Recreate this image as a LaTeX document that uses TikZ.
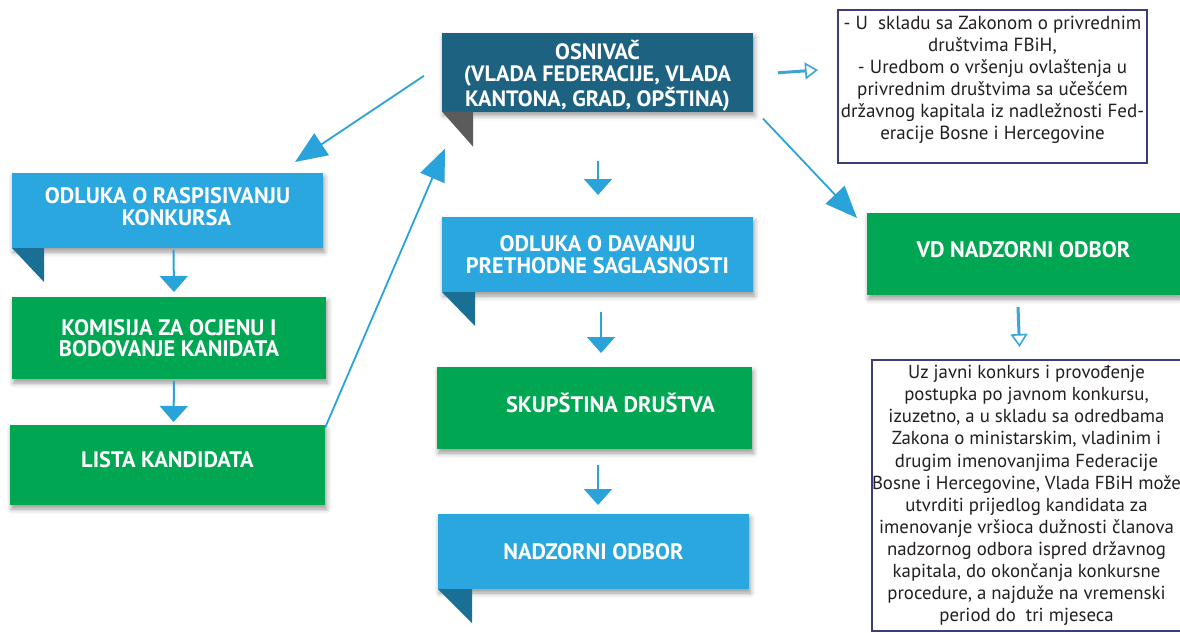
\documentclass[tikz,border=0pt]{standalone}
\usepackage{fontspec}
\setmainfont{PT Sans}
\usetikzlibrary{arrows.meta,calc,shadows.blur}

\definecolor{osnteal}{HTML}{1D6381}
\definecolor{panelblue}{HTML}{2AA7DF}
\definecolor{panelgreen}{HTML}{00A651}
\definecolor{foldblue}{HTML}{1A6F95}
\definecolor{foldgrey}{HTML}{5B5B5B}
\definecolor{arrowblue}{HTML}{2AA2DA}
\definecolor{hollowblue}{HTML}{3BA6D6}
\definecolor{frame}{HTML}{3C3C7C}
\definecolor{bodytext}{HTML}{231F20}

\begin{document}
\begin{tikzpicture}[x=1pt,y=-1pt,
  panel/.style={anchor=north west, inner sep=0pt, outer sep=0pt, text=white,
    align=center, font=\fontsize{22.4}{22.5}\selectfont\bfseries,
    blur shadow={shadow xshift=1.5pt, shadow yshift=-4pt,
      shadow blur radius=5pt, shadow opacity=40}},
  bluepanel/.style={panel, fill=panelblue},
  greenpanel/.style={panel, fill=panelgreen},
  note/.style={anchor=north west, draw=frame, line width=1.5pt, fill=white,
    inner sep=0pt, outer sep=0pt, align=center, text=bodytext},
  thinarrow/.style={draw=arrowblue, line width=1.8pt,
    -{Triangle[length=32pt, width=26pt]}},
  downarrow/.style={draw=arrowblue, line width=2pt,
    -{Triangle[length=16pt, width=28pt]}},
  hollowarrow/.style={draw=hollowblue, line width=3pt,
    -{Triangle[open, length=13pt, width=17pt, line width=1.6pt, fill=white]}},
]
\useasboundingbox (0,0) rectangle (1180,632);

% ---- ribbon panels ----
\node[panel, fill=osnteal, minimum width=311pt, minimum height=73pt,
  font=\fontsize{22.2}{22.5}\selectfont\bfseries] (osn) at (442,33)
  {\rule{0pt}{26pt}OSNIVAČ\\(VLADA FEDERACIJE, VLADA\\KANTONA, GRAD, OPŠTINA)};
\fill[foldgrey] (osn.south west) -- ++(31,0) -- ++(0,35) -- cycle;

\node[bluepanel, minimum width=311pt, minimum height=75pt] (odr) at (12,173)
  {ODLUKA O RASPISIVANJU\\\hspace*{18pt}KONKURSA\rule[-8pt]{0pt}{1pt}};
\fill[foldblue] (odr.south west) -- ++(32,0) -- ++(0,34) -- cycle;

\node[greenpanel, minimum width=314pt, minimum height=82pt,
  font=\fontsize{22.4}{21}\selectfont\bfseries] (kom) at (12,297)
  {KOMISIJA ZA OCJENU I\\BODOVANJE KANIDATA};

\node[greenpanel, minimum width=315pt, minimum height=80pt] (lis) at (10,425)
  {LISTA KANDIDATA\rule[-12pt]{0pt}{1pt}};

\node[bluepanel, minimum width=311pt, minimum height=75pt] (odd) at (442,217)
  {ODLUKA O DAVANJU\\PRETHODNE SAGLASNOSTI};
\fill[foldblue] (odd.south west) -- ++(33,0) -- ++(0,34) -- cycle;

\node[greenpanel, minimum width=315pt, minimum height=82pt] (sku) at (437,367)
  {\hspace*{32pt}SKUPŠTINA DRUŠTVA\rule[-10pt]{0pt}{1pt}};

\node[bluepanel, minimum width=311pt, minimum height=75pt] (nad) at (438,514)
  {NADZORNI ODBOR};
\fill[foldblue] (nad.south west) -- ++(34,0) -- ++(0,34) -- cycle;

\node[greenpanel, minimum width=313pt, minimum height=82pt] (vd) at (867,213)
  {VD NADZORNI ODBOR\rule[-10pt]{0pt}{1pt}};

% ---- framed notes ----
\node[note, minimum width=309pt, minimum height=153pt,
  font=\fontsize{19}{22}\selectfont] (law) at (838,10)
  {- U\ \ skladu sa Zakonom o privrednim\\
   društvima FBiH,\\
   - Uredbom o vršenju ovlaštenja u\\
   privrednim društvima sa učešćem\\
   državnog kapitala iz nadležnosti Fed-\\
   eracije Bosne i Hercegovine\rule[-18pt]{0pt}{1pt}};

\node[note, minimum width=306pt, minimum height=271pt,
  font=\fontsize{18.8}{22.1}\selectfont] (exc) at (872,360)
  {Uz javni konkurs i provođenje\\
   postupka po javnom konkursu,\\
   izuzetno, a u skladu sa odredbama\\
   Zakona o ministarskim, vladinim i\\
   drugim imenovanjima Federacije\\
   Bosne i Hercegovine, Vlada FBiH može\\
   utvrditi prijedlog kandidata za\\
   imenovanje vršioca dužnosti članova\\
   nadzornog odbora ispred državnog\\
   kapitala, do okončanja konkursne\\
   procedure, a najduže na vremenski\\
   period do\ \ tri mjeseca};

% ---- connectors ----
\draw[thinarrow] ($(osn.west)+(-18,3.5)$) -- ($(odr.north east)+(-28,-11)$);
\draw[thinarrow] ($(lis.north east)+(0,3)$) -- ($(osn.south west)+(3,37)$);
\draw[thinarrow] ($(osn.south east)+(10,7)$) -- ($(vd.north west)+(-10,5)$);

\draw[downarrow] ($(odr.south)+(6,2)$) -- ($(kom.north)+(5,-5)$);
\draw[downarrow] ($(kom.south)+(5,2)$) -- ($(lis.north)+(6,-3)$);
\draw[downarrow] ($(osn.south)+(0.5,49)$) -- ($(odd.north)+(0.5,-22)$);
\draw[downarrow] ($(odd.south)+(3.5,20)$) -- ($(sku.north)+(6.5,-14)$);
\draw[downarrow] ($(sku.south)+(3.5,16)$) -- ($(nad.south)+(4.5,-84)$);

\draw[hollowarrow] ($(osn.east)+(25,0.5)$) -- ($(law.west)+(-20,-16.5)$);
\draw[hollowarrow] ($(vd.south)+(-5.5,12)$) -- ($(exc.north)+(-7,-13)$);
\end{tikzpicture}
\end{document}
